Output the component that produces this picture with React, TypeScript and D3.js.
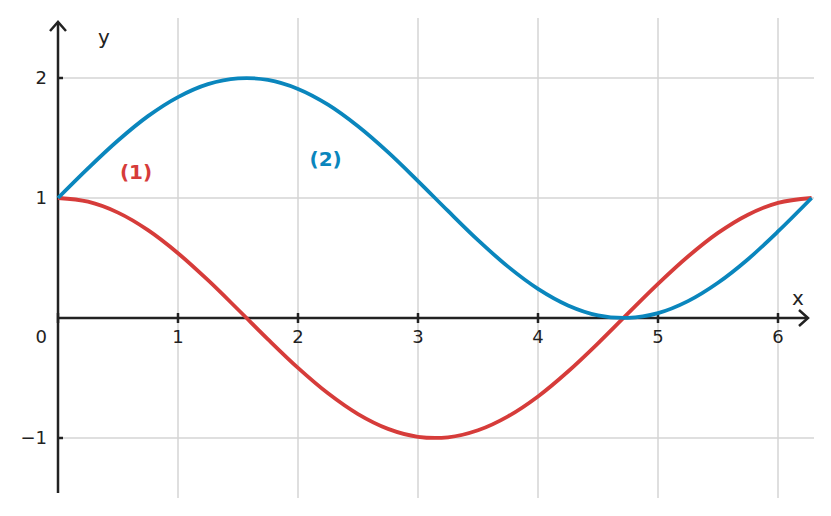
import React from "react";
import * as d3 from "d3";

const xs = [0, 0.25, 0.5, 0.75, 1, 1.25, 1.5, 1.75, 2, 2.25, 2.5, 2.75, 3, 3.25, 3.5, 3.75, 4, 4.25, 4.5, 4.75, 5, 5.25, 5.5, 5.75, 6, 6.28];
const series1 = [1.0, 0.969, 0.878, 0.732, 0.54, 0.315, 0.071, -0.178, -0.416, -0.628, -0.801, -0.924, -0.99, -0.994, -0.936, -0.82, -0.654, -0.446, -0.211, 0.038, 0.284, 0.512, 0.709, 0.861, 0.96, 1.0];
const series2 = [1.0, 1.247, 1.479, 1.682, 1.841, 1.949, 1.997, 1.984, 1.909, 1.778, 1.598, 1.382, 1.141, 0.892, 0.649, 0.428, 0.243, 0.105, 0.022, 0.001, 0.041, 0.141, 0.294, 0.49, 0.721, 1.0];
const xTicks = [1, 2, 3, 4, 5, 6];
const yTicks = [-1, 1, 2];
const labels = [
  { text: "(1)", x: 0.65, y: 1.16, color: "#d63c3a" },
  { text: "(2)", x: 2.23, y: 1.27, color: "#0a86bd" },
];

const W = 831, H = 516;
const RED = "#d63c3a";
const BLUE = "#0a86bd";
const AX = "#222222";
const GRID = "#d4d4d4";
const FONT = "DejaVu Sans, sans-serif";

export default function App() {
  const x = d3.scaleLinear().domain([0, 6.3]).range([58, 814]);
  const y = d3.scaleLinear().domain([-1.5, 2.5]).range([498, 18]);
  const line = d3
    .line<number>()
    .x((_, i) => x(xs[i]))
    .y((d) => y(d))
    .curve(d3.curveCatmullRom.alpha(0.5));
  const x0 = x(0), y0 = y(0);
  return (
    <svg width={W} height={H} style={{ position: "fixed", left: 0, top: 0, background: "#fff" }} fontFamily={FONT}>
      <rect width={W} height={H} fill="#fff" />
      {xTicks.map((t) => (
        <line key={"gx" + t} x1={x(t)} x2={x(t)} y1={18} y2={498} stroke={GRID} strokeWidth={1.5} />
      ))}
      {yTicks.map((t) => (
        <line key={"gy" + t} x1={x0} x2={814} y1={y(t)} y2={y(t)} stroke={GRID} strokeWidth={1.5} />
      ))}
      <line x1={x0} x2={808} y1={y0} y2={y0} stroke={AX} strokeWidth={2.5} />
      <polyline points={`${799},${y0 - 8} ${808},${y0} ${799},${y0 + 8}`} fill="none" stroke={AX} strokeWidth={2.5} />
      <line x1={x0} x2={x0} y1={22} y2={493} stroke={AX} strokeWidth={2.5} />
      <polyline points={`${x0 - 8},${31} ${x0},${22} ${x0 + 8},${31}`} fill="none" stroke={AX} strokeWidth={2.5} />
      {[0, ...xTicks].map((t) => (
        <line key={"tx" + t} x1={x(t)} x2={x(t)} y1={y0 - 5} y2={y0 + 5} stroke={AX} strokeWidth={2.5} />
      ))}
      {yTicks.map((t) => (
        <line key={"ty" + t} x1={x0} x2={x0 + 5} y1={y(t)} y2={y(t)} stroke={AX} strokeWidth={2.5} />
      ))}
      {xTicks.map((t) => (
        <text key={"lx" + t} x={x(t)} y={y0 + 25} textAnchor="middle" fontSize={18} fill={AX}>{t}</text>
      ))}
      <text x={47} y={y0 + 25} textAnchor="end" fontSize={18} fill={AX}>0</text>
      {yTicks.map((t) => (
        <text key={"ly" + t} x={47} y={y(t) + 6} textAnchor="end" fontSize={18} fill={AX}>
          {t < 0 ? "\u2212" + Math.abs(t) : t}
        </text>
      ))}
      <text x={104} y={44} textAnchor="middle" fontSize={20} fill={AX}>y</text>
      <text x={798} y={305} textAnchor="middle" fontSize={20} fill={AX}>x</text>
      <path d={line(series1) || ""} fill="none" stroke={RED} strokeWidth={3.8} />
      <path d={line(series2) || ""} fill="none" stroke={BLUE} strokeWidth={3.8} />
      {labels.map((l) => (
        <text key={l.text} x={x(l.x)} y={y(l.y)} textAnchor="middle" fontSize={20} fontWeight="bold" fill={l.color}>{l.text}</text>
      ))}
    </svg>
  );
}
